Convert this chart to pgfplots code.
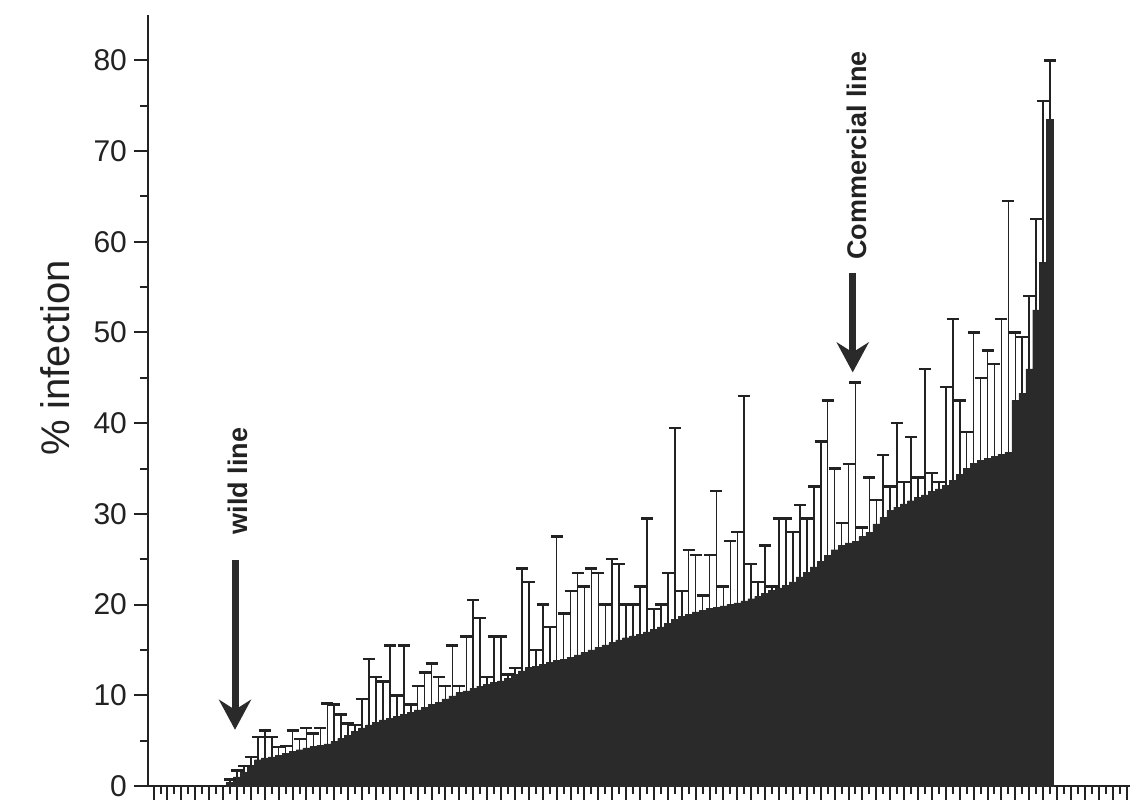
\documentclass[border=0pt]{standalone}
\usepackage{fontspec}
\setmainfont{Liberation Sans}
\usepackage{pgfplots}
\usepackage{pgfplotstable}
\pgfplotsset{compat=1.18}
\usetikzlibrary{arrows.meta}
\definecolor{barcol}{HTML}{2A2A2A}
\definecolor{txtcol}{HTML}{222222}

\pgfplotstableread{
i b t
1 0.4 0.7
2 1.0 1.7
3 1.5 2.2
4 2.3 3.2
5 2.9 5.4
6 3.1 6.1
7 3.2 5.4
8 3.4 4.3
9 3.6 4.4
10 3.8 6.1
11 4.0 5.2
12 4.2 6.4
13 4.35 5.8
14 4.5 6.4
15 4.65 9.1
16 4.9 9.0
17 5.25 7.9
18 5.6 6.9
19 6.0 6.7
20 6.4 9.6
21 6.75 14
22 7.05 12
23 7.3 11.5
24 7.45 15.5
25 7.65 10
26 7.9 15.5
27 8.15 9
28 8.4 11
29 8.7 12.5
30 9.0 13.5
31 9.25 12
32 9.6 11
33 9.95 15.5
34 10.3 11
35 10.5 16.5
36 10.75 20.5
37 11.0 18.5
38 11.2 12
39 11.4 16.5
40 11.6 16.5
41 11.85 12.3
42 12.3 13
43 12.7 24
44 13.05 22.5
45 13.2 15
46 13.45 20
47 13.65 17.5
48 13.85 27.5
49 14.0 19
50 14.2 21.5
51 14.45 23.5
52 14.75 22
53 15.0 24
54 15.3 23.5
55 15.55 20
56 15.8 25
57 16.1 24.5
58 16.35 20
59 16.55 20
60 16.75 22
61 17.0 29.5
62 17.25 19.5
63 17.55 20
64 17.95 23.5
65 18.4 39.5
66 18.7 21.5
67 18.95 26
68 19.2 25.5
69 19.4 21
70 19.55 25.5
71 19.7 32.5
72 19.85 22
73 20.0 27
74 20.2 28
75 20.4 43
76 20.65 24.5
77 20.9 22.5
78 21.25 26.5
79 21.55 22
80 21.85 29.5
81 22.15 29.5
82 22.5 28
83 23.05 31
84 23.55 29.5
85 24.15 33
86 24.8 38
87 25.45 42.5
88 26.05 35
89 26.55 29
90 26.8 35.5
91 27.0 44.5
92 27.5 28.5
93 28.0 34
94 28.9 31.5
95 29.6 36.5
96 30.4 33
97 30.75 40
98 31.1 33.5
99 31.45 38.5
100 31.8 34
101 32.1 46
102 32.45 34.5
103 32.75 33.5
104 33.15 44
105 33.7 51.5
106 34.35 42.5
107 35.0 39
108 35.6 50
109 35.9 45
110 36.1 48
111 36.35 46.5
112 36.55 51.5
113 36.8 64.5
114 42.5 50
115 43.3 49.5
116 46.0 54
117 52.5 62.5
118 57.7 75.5
119 73.5 80
}\infdata

\begin{document}
\begin{tikzpicture}
\useasboundingbox (-74pt,-9pt) rectangle (498pt,393pt);
\begin{axis}[
  scale only axis,
  width=491pt, height=385.5pt,
  xmin=-10.8, xmax=130.5,
  ymin=0, ymax=85,
  axis x line=bottom, axis y line=left,
  axis line style={-, line width=1.2pt, color=txtcol},
  tick align=outside,
  major tick length=7pt, minor tick length=4pt,
  ytick={0,10,...,80},
  minor ytick={5,15,...,75},
  xtick={-10,-8,...,130},
  minor xtick={-9,-7,...,129},
  xticklabels={},
  tick style={line width=1pt, color=txtcol},
  minor tick style={line width=1pt, color=txtcol},
  yticklabel style={font=\fontsize{15}{18}\selectfont, text=txtcol},
  /pgf/number format/assume math mode=true,
  clip=false,
]
\addplot[ybar, bar width=1, fill=barcol, draw=barcol, line width=0.2pt,
  error bars/.cd, y dir=plus, y explicit,
  error bar style={line width=0.8pt, color=txtcol},
  error mark options={rotate=90, line width=1.2pt, mark size=3pt, color=txtcol}]
  table[x=i, y=b, y error expr=\thisrow{t}-\thisrow{b}] {\infdata};

\node[rotate=90, font=\fontsize{20}{24}\selectfont, text=txtcol] at (rel axis cs:-0.0947,0.555) {\% infection};

\draw[line width=3.5pt, color=barcol, -{Stealth[length=15pt,width=16pt,inset=5pt]}] (axis cs:1.72,24.9) -- (axis cs:1.72,6.2);
\node[rotate=90, font=\bfseries\fontsize{13.5}{16}\selectfont, text=txtcol] at (axis cs:2.2,33.6) {wild line};

\draw[line width=3.5pt, color=barcol, -{Stealth[length=15pt,width=16pt,inset=5pt]}] (axis cs:90.6,56.6) -- (axis cs:90.6,45.6);
\node[rotate=90, font=\bfseries\fontsize{13.5}{16}\selectfont, text=txtcol] at (axis cs:91.2,69.5) {Commercial line};
\end{axis}
\end{tikzpicture}
\end{document}
